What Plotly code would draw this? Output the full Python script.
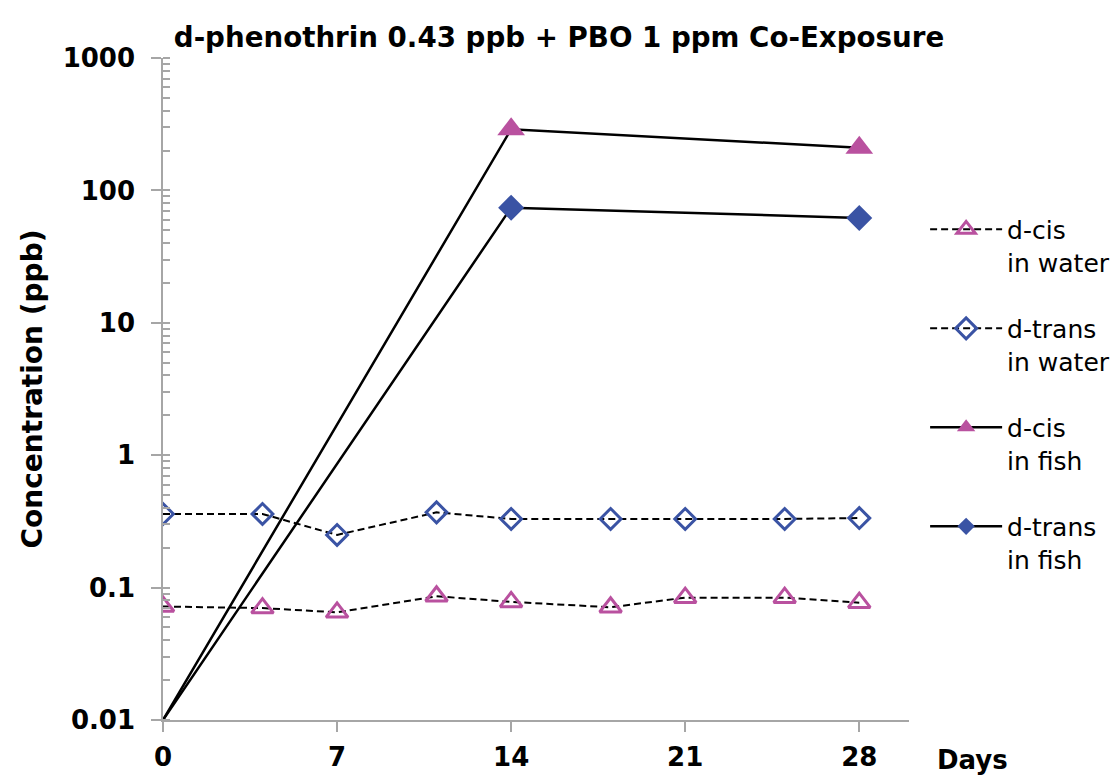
import plotly.graph_objects as go

# Dias de amostragem
dias_agua = [0, 4, 7, 11, 14, 18, 21, 25, 28]
dias_peixe = [0, 14, 28]

# Concentrações (ppb)
cis_agua = [0.072, 0.070, 0.065, 0.086, 0.078, 0.071, 0.084, 0.084, 0.077]
trans_agua = [0.36, 0.36, 0.25, 0.37, 0.33, 0.33, 0.33, 0.33, 0.335]
cis_peixe = [0.01, 290, 210]
trans_peixe = [0.01, 74, 62]

nomes = ["d-cis<br>in water", "d-trans<br>in water", "d-cis<br>in fish", "d-trans<br>in fish"]
ticks_x = [0, 7, 14, 21, 28]
ticks_y = [0.01, 0.1, 1, 10, 100, 1000]
rotulos_y = ["0.01", "0.1", "1", "10", "100", "1000"]

rosa = "#B9519F"
azul = "#3A53A4"
cinza = "#A6A6A6"
fonte = "DejaVu Sans, Liberation Sans, sans-serif"

fig = go.Figure()

fig.add_trace(go.Scatter(
    x=dias_agua, y=cis_agua, name=nomes[0], mode="lines+markers", legendgroup="a",
    line=dict(color="black", width=2, dash="7px,4px"),
    marker=dict(symbol="triangle-up-open", size=19, color=rosa, opacity=1,
                line=dict(width=3, color=rosa))
))
fig.add_trace(go.Scatter(
    x=dias_agua, y=trans_agua, name=nomes[1], mode="lines+markers", legendgroup="b",
    line=dict(color="black", width=2, dash="7px,4px"),
    marker=dict(symbol="diamond-open", size=16, color=azul, opacity=1,
                line=dict(width=3, color=azul))
))
fig.add_trace(go.Scatter(
    x=dias_peixe, y=cis_peixe, name=nomes[2], mode="lines+markers", legendgroup="c",
    line=dict(color="black", width=2.5),
    marker=dict(symbol="triangle-up", size=[0, 24, 24], color=rosa, opacity=1,
                line=dict(width=0))
))
fig.add_trace(go.Scatter(
    x=dias_peixe, y=trans_peixe, name=nomes[3], mode="lines+markers", legendgroup="d",
    line=dict(color="black", width=2.5),
    marker=dict(symbol="diamond", size=[0, 20, 20], color=azul, opacity=1,
                line=dict(width=0))
))

# a página tem 8px de margem no body
fig.update_layout(
    width=1119, height=778,
    margin=dict(l=155, r=216, t=50, b=66),
    plot_bgcolor="white", paper_bgcolor="white",
    font=dict(family=fonte, color="black"),
    title=dict(text="<b>d-phenothrin 0.43 ppb + PBO 1 ppm Co-Exposure</b>",
               x=0.4924, xanchor="center", y=0.962, yanchor="middle",
               font=dict(size=27.7, color="black", family=fonte)),
    legend=dict(x=1.0216, xanchor="left", y=0.7755, yanchor="top",
                font=dict(size=25, color="black", family=fonte), valign="top",
                tracegroupgap=31, itemwidth=72, bgcolor="rgba(0,0,0,0)"),
    annotations=[dict(text="<b>Days</b>", x=1.035, y=-0.06, xref="paper", yref="paper",
                      xanchor="left", yanchor="middle", showarrow=False,
                      font=dict(size=26, color="black", family=fonte))]
)

fig.update_xaxes(
    range=[0, 30], tickvals=ticks_x, ticktext=["<b>%d</b>" % t for t in ticks_x],
    showgrid=False, zeroline=False, automargin=False,
    showline=True, linecolor=cinza, linewidth=1.5,
    ticks="outside", ticklen=10, tickcolor=cinza, tickwidth=1.5,
    tickfont=dict(size=26, color="black", family=fonte),
    ticklabelstandoff=3
)

fig.update_yaxes(
    type="log", range=[-2, 3], tickvals=ticks_y, ticktext=["<b>" + r + "</b>" for r in rotulos_y],
    showgrid=False, zeroline=False, automargin=False,
    showline=True, linecolor=cinza, linewidth=1.5,
    ticks="outside", ticklen=10, tickcolor=cinza, tickwidth=1.5,
    tickfont=dict(size=26, color="black", family=fonte),
    minor=dict(ticks="inside", ticklen=7, tickcolor=cinza, tickwidth=1.5, dtick="D1", showgrid=False),
    title=dict(text="<b>Concentration (ppb)</b>", font=dict(size=28, color="black", family=fonte),
               standoff=12),
    ticklabelstandoff=11
)

fig.write_html("out.html")
